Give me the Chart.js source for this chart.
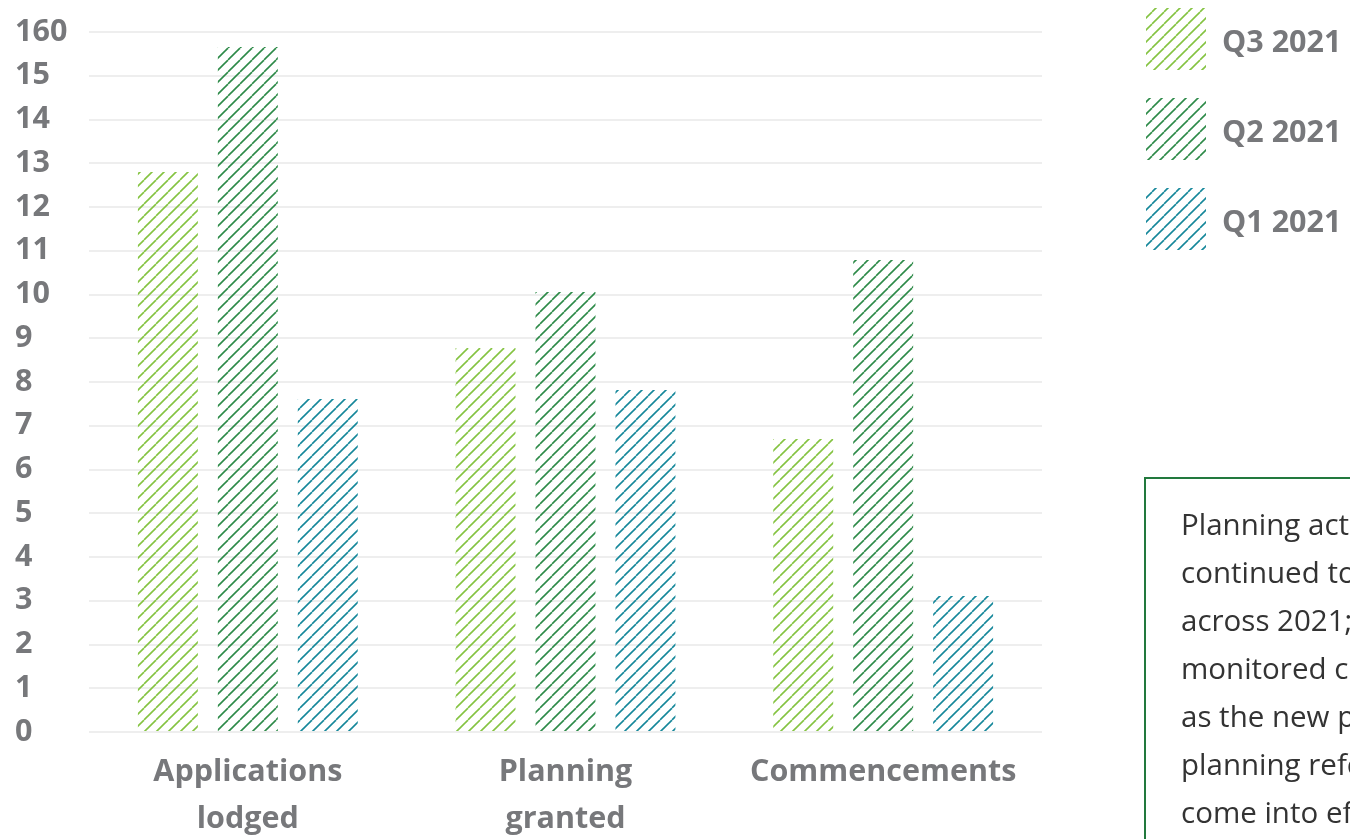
<!DOCTYPE html>
<html>
<head>
<meta charset="utf-8">
<script src="https://cdn.jsdelivr.net/npm/chart.js@4/dist/chart.umd.min.js"></script>
<style>
  html, body { margin: 0; padding: 0; width: 1350px; height: 839px; overflow: hidden; background: #fff; }
  #wrap { position: absolute; left: 0; top: 0; width: 1350px; height: 839px; }
  #note {
    position: absolute; left: 1144px; top: 477px; width: 300px; height: 420px;
    border: 2px solid #22793d; box-sizing: border-box;
    padding: 21px 0 0 35px;
    font-family: "Open Sans", sans-serif; font-size: 29.5px; line-height: 48px; color: #333;
    white-space: nowrap; overflow: hidden;
  }
</style>
</head>
<body>
<div id="wrap"><canvas id="c" width="1350" height="839"></canvas></div>
<div id="note">Planning activity has<br>continued to increase<br>across 2021; and will be<br>monitored closely<br>as the new phase of<br>planning reforms<br>come into effect.</div>
<script>
const categories = [['Applications', 'lodged'], ['Planning', 'granted'], ['Commencements']];
const seriesLabels = ['Q3 2021', 'Q2 2021', 'Q1 2021'];
const q3_2021 = [12.8, 8.78, 6.7];
const q2_2021 = [15.66, 10.06, 10.79];
const q1_2021 = [7.61, 7.82, 3.11];
const yTickLabels = ['0','1','2','3','4','5','6','7','8','9','10','11','12','13','14','15','160'];
const seriesColors = ['#84c341', '#2d8a48', '#15879a'];

function hatch(color) {
  const s = 12;
  const cv = document.createElement('canvas');
  cv.width = s; cv.height = s;
  const x = cv.getContext('2d');
  x.strokeStyle = color; x.lineWidth = 1.6;
  for (const k of [-s, 0, s]) {
    x.beginPath(); x.moveTo(k, s); x.lineTo(k + s, 0); x.stroke();
  }
  return x.createPattern(cv, 'repeat');
}

const ctx = document.getElementById('c').getContext('2d');
const patterns = seriesColors.map(hatch);
const FONT = '"Open Sans", sans-serif';
const GREY = '#77787b';
const FSIZE = 30.5;

const legendPlugin = {
  id: 'sideLegend',
  afterDraw(chart) {
    const c = chart.ctx;
    c.save();
    chart.data.datasets.forEach((ds, i) => {
      const y = 8 + i * 90;
      c.fillStyle = ds.backgroundColor;
      c.fillRect(1146, y, 60, 62);
      c.fillStyle = GREY;
      c.font = 'bold ' + FSIZE + 'px ' + FONT;
      c.textBaseline = 'middle';
      c.textAlign = 'left';
      c.fillText(ds.label, 1222, y + 35);
    });
    c.restore();
  }
};

new Chart(ctx, {
  type: 'bar',
  data: {
    labels: categories,
    datasets: [
      { label: seriesLabels[0], data: q3_2021, backgroundColor: patterns[0] },
      { label: seriesLabels[1], data: q2_2021, backgroundColor: patterns[1] },
      { label: seriesLabels[2], data: q1_2021, backgroundColor: patterns[2] }
    ]
  },
  options: {
    responsive: false,
    animation: false,
    devicePixelRatio: 1,
    layout: { padding: { left: 15, right: 308, top: 32, bottom: 0 } },
    plugins: { legend: { display: false }, tooltip: { enabled: false } },
    datasets: { bar: { barPercentage: 0.75, categoryPercentage: 0.755 } },
    scales: {
      x: {
        afterFit(scale) { scale.height = 107; },
        grid: { display: false, drawTicks: false },
        border: { display: false },
        ticks: { color: GREY, font: { family: FONT, size: FSIZE, weight: 'bold', lineHeight: '47px' }, padding: 17, maxRotation: 0, autoSkip: false }
      },
      y: {
        min: 0, max: 16,
        afterFit(scale) { scale.width = 74; },
        grid: { color: '#eeeeee', lineWidth: 2, drawTicks: false },
        border: { display: false },
        ticks: {
          stepSize: 1, crossAlign: 'far', color: GREY,
          font: { family: FONT, size: FSIZE, weight: 'bold' },
          callback: (v) => yTickLabels[v]
        }
      }
    }
  },
  plugins: [legendPlugin]
});
</script>
</body>
</html>
